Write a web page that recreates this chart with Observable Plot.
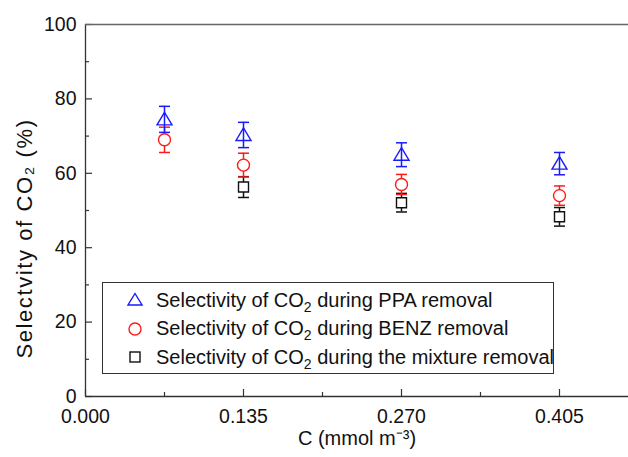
<!DOCTYPE html>
<html>
<head>
<meta charset="utf-8">
<script src="https://cdn.jsdelivr.net/npm/d3@7"></script>
<script src="https://cdn.jsdelivr.net/npm/@observablehq/plot@0.6"></script>
<style>
  html, body { margin: 0; padding: 0; background: #fff; }
  #wrap { position: relative; width: 628px; height: 457px; font-family: "Liberation Sans", Arial, sans-serif; }
  #legend { position: absolute; left: 102px; top: 282px; width: 452px; height: 92px;
            border: 1.3px solid #333; box-sizing: border-box; background: #fff; }
  .row { position: absolute; left: 0; height: 28px; display: flex; align-items: center; font-size: 20px; color: #111; white-space: nowrap; }
  .row svg { margin-left: 24px; margin-right: 13px; }
  sub { font-size: 14px; vertical-align: -5px; line-height: 0; }
  .ylab text { letter-spacing: 1.6px; }
</style>
</head>
<body>
<div id="wrap"></div>
<script>
// ---- data ----
const concentrations = [0.0675, 0.135, 0.27, 0.405];
const ppaValues = [74.5, 70.3, 65.0, 62.6];
const ppaErrors = [3.5, 3.4, 3.2, 3.0];
const benzValues = [69.0, 62.2, 57.0, 54.0];
const benzErrors = [3.4, 3.2, 2.7, 2.6];
const mixConcentrations = [0.135, 0.27, 0.405];
const mixValues = [56.3, 52.1, 48.3];
const mixErrors = [2.8, 2.5, 2.5];
const xTicks = [0, 0.135, 0.27, 0.405];
const xMinorTicks = [0.0675, 0.2025, 0.3375];
const yTicks = [0, 20, 40, 60, 80, 100];
const yMinorTicks = [10, 30, 50, 70, 90];
const seriesNames = [
  "Selectivity of CO<sub>2</sub> during PPA removal",
  "Selectivity of CO<sub>2</sub> during BENZ removal",
  "Selectivity of CO<sub>2</sub> during the mixture removal"
];

const ppa = concentrations.map((x, i) => ({x, y: ppaValues[i], e: ppaErrors[i]}));
const benz = concentrations.map((x, i) => ({x, y: benzValues[i], e: benzErrors[i]}));
const mix = mixConcentrations.map((x, i) => ({x, y: mixValues[i], e: mixErrors[i]}));

const BLUE = "#1a1aff", RED = "#ff1a1a", BLACK = "#111";

const capSym = {draw(ctx) { ctx.moveTo(-5.5, 0); ctx.lineTo(5.5, 0); }};
const triSym = {draw(ctx) { ctx.moveTo(0, -7); ctx.lineTo(7.5, 5.5); ctx.lineTo(-7.5, 5.5); ctx.closePath(); }};
const sqSym = {draw(ctx) { ctx.rect(-5, -5, 10, 10); }};
const circSym = {draw(ctx) { ctx.moveTo(6, 0); ctx.arc(0, 0, 6, 0, 2 * Math.PI); }};

function series(data, color, sym, fill) {
  return [
    Plot.ruleX(data, {x: "x", y1: d => d.y - d.e, y2: d => d.y + d.e, stroke: color, strokeWidth: 1.5}),
    Plot.dot(data, {x: "x", y: d => d.y + d.e, symbol: capSym, stroke: color, strokeWidth: 1.5, r: 5}),
    Plot.dot(data, {x: "x", y: d => d.y - d.e, symbol: capSym, stroke: color, strokeWidth: 1.5, r: 5}),
    Plot.dot(data, {x: "x", y: "y", symbol: sym, stroke: color, fill: fill, strokeWidth: 1.4, r: 6})
  ];
}

const axisColor = "#333";
const chart = Plot.plot({
  width: 628,
  height: 457,
  marginLeft: 85,
  marginRight: 0,
  marginTop: 24,
  marginBottom: 61,
  style: {fontFamily: "Liberation Sans, Arial, sans-serif", background: "#fff", color: "#111"},
  x: {domain: [0, 543 / 158 * 0.135]},
  y: {domain: [0, 100]},
  marks: [
    Plot.axisX(xTicks, {tickSize: -7, tickFormat: () => "", stroke: axisColor, strokeWidth: 1.2, label: null}),
    Plot.axisX(xMinorTicks, {tickSize: -4, tickFormat: () => "", stroke: axisColor, strokeWidth: 1.2, label: null}),
    Plot.axisX(xTicks, {tickSize: 0, tickPadding: 13, tickFormat: d3.format(".3f"), fontSize: 19.5, label: null}),
    Plot.axisY(yTicks, {tickSize: -7, tickFormat: () => "", stroke: axisColor, strokeWidth: 1.2, label: null}),
    Plot.axisY(yMinorTicks, {tickSize: -4, tickFormat: () => "", stroke: axisColor, strokeWidth: 1.2, label: null}),
    Plot.axisY(yTicks, {tickSize: 0, tickPadding: 9, fontSize: 19.5, label: null}),
    Plot.ruleX([0], {stroke: axisColor, strokeWidth: 1.3}),
    Plot.ruleY([0], {stroke: axisColor, strokeWidth: 1.3}),
    Plot.ruleY([100], {stroke: "#666", strokeWidth: 1.3}),
    Plot.text(["C (mmol m\u207B\u00B3)"], {frameAnchor: "bottom", dy: 48, fontSize: 20, fill: "#111"}),
    Plot.text(["Selectvity of CO\u2082 (%)"], {frameAnchor: "left", textAnchor: "middle", dx: -61, dy: 28, rotate: -90, fontSize: 22, fill: "#111", className: "ylab"}),
    ...series(mix, BLACK, sqSym, "white"),
    ...series(benz, RED, circSym, "white"),
    ...series(ppa, BLUE, triSym, "none")
  ]
});

const wrap = document.getElementById("wrap");
wrap.appendChild(chart);

// legend (inside plot area)
const legend = document.createElement("div");
legend.id = "legend";
const symbolsSvg = [
  `<svg width="16" height="16" viewBox="-8 -8 16 16"><path d="M0,-6.5L7,5L-7,5Z" fill="none" stroke="${BLUE}" stroke-width="1.4"/></svg>`,
  `<svg width="16" height="16" viewBox="-8 -8 16 16"><circle r="6" fill="white" stroke="${RED}" stroke-width="1.4"/></svg>`,
  `<svg width="16" height="16" viewBox="-8 -8 16 16"><rect x="-5" y="-5" width="10" height="10" fill="white" stroke="${BLACK}" stroke-width="1.4"/></svg>`
];
seriesNames.forEach((name, i) => {
  const row = document.createElement("div");
  row.className = "row";
  row.style.top = (3 + i * 28.5) + "px";
  row.innerHTML = symbolsSvg[i] + `<span>${name}</span>`;
  legend.appendChild(row);
});
wrap.appendChild(legend);
</script>
</body>
</html>
